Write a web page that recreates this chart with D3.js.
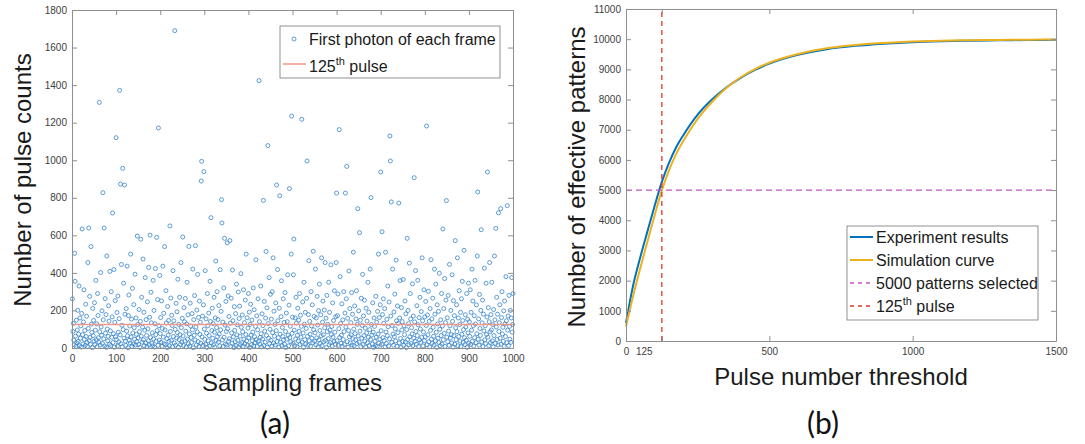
<!DOCTYPE html>
<html>
<head>
<meta charset="utf-8">
<script src="https://cdn.jsdelivr.net/npm/d3@7"></script>
<style>
	body { margin: 0; background: #fff; }
	text { font-family: "Liberation Sans", Arial, sans-serif; }
	.tick text { fill: #404040; font-size: 10px; }
	.tick line, .domain { stroke: #8f8f8f; }
</style>
</head>
<body>
<script>
// (a) first photon pulse index for each of the 1000 sampling frames
var frameCounts = [
	262, 88, 131, 42, 17, 504, 355, 63, 9, 148, 27, 96, 201, 35, 74, 330, 12, 160, 52, 118,
	5, 184, 634, 71, 22, 139, 310, 46, 93, 14, 233, 61, 169, 30, 8, 455, 104, 639, 39, 275,
	57, 19, 540, 127, 83, 2, 211, 66, 147, 36,
	241, 18, 95, 360, 44, 128, 7, 290, 173, 55, 31, 1308, 86, 15, 402, 112, 68, 198, 24, 827,
	150, 49, 639, 11, 263, 79, 178, 3, 490, 101, 38, 62, 225, 143, 20, 408, 91, 13, 300, 57,
	166, 719, 29, 76, 418, 4, 137, 252, 60, 1120,
	45, 189, 10, 277, 84, 33, 156, 1372, 70, 873, 23, 445, 121, 6, 957, 98, 345, 52, 868, 180,
	37, 14, 210, 90, 436, 65, 1, 172, 282, 41, 117, 26, 500, 59, 154, 9, 318, 80, 21, 231,
	108, 47, 393, 16, 160, 73, 34, 596, 125, 54,
	19, 205, 87, 3, 142, 579, 63, 270, 31, 111, 474, 44, 190, 12, 95, 375, 28, 151, 67, 8,
	246, 102, 39, 429, 17, 164, 601, 56, 297, 134, 25, 81, 12, 360, 48, 200, 5, 129, 423, 71,
	36, 589, 93, 258, 14, 1172, 119, 42, 386, 77,
	162, 30, 251, 9, 104, 436, 58, 185, 23, 540, 96, 18, 305, 133, 50, 2, 221, 69, 147, 35,
	11, 650, 88, 266, 40, 174, 120, 7, 412, 61, 145, 27, 1690, 99, 15, 238, 53, 193, 82, 366,
	4, 126, 45, 270, 71, 19, 455, 108, 32, 158,
	591, 64, 13, 215, 140, 37, 264, 90, 6, 128, 350, 48, 177, 22, 541, 75, 10, 239, 117, 56,
	29, 183, 97, 420, 1, 151, 68, 279, 43, 545, 112, 16, 202, 86, 392, 34, 163, 8, 250, 72,
	137, 25, 889, 994, 59, 170, 14, 230, 939, 101,
	46, 412, 20, 155, 79, 3, 290, 118, 38, 186, 66, 10, 355, 141, 694, 27, 93, 212, 52, 130,
	18, 270, 84, 5, 160, 463, 40, 109, 300, 61, 152, 31, 226, 74, 12, 417, 97, 195, 790, 666,
	43, 138, 8, 320, 57, 584, 122, 21, 248, 88,
	15, 560, 103, 277, 36, 168, 49, 572, 132, 7, 265, 80, 26, 415, 145, 59, 2, 220, 94, 33,
	183, 12, 340, 70, 124, 41, 298, 5, 157, 223, 63, 18, 396, 110, 28, 176, 86, 9, 310, 47,
	135, 22, 255, 72, 500, 38, 161, 14, 106, 290,
	54, 191, 3, 126, 233, 68, 17, 149, 39, 85, 320, 11, 204, 60, 29, 115, 470, 44, 171, 8,
	97, 262, 35, 1424, 140, 21, 57, 330, 76, 6, 182, 48, 119, 786, 13, 248, 90, 31, 159, 514,
	67, 214, 4, 1078, 130, 52, 375, 24, 100, 286,
	41, 154, 10, 300, 82, 480, 26, 196, 63, 125, 16, 240, 92, 868, 35, 418, 145, 55, 5, 212,
	811, 74, 30, 167, 358, 14, 109, 61, 262, 43, 136, 20, 295, 88, 2, 186, 47, 140, 390, 69,
	11, 228, 849, 56, 116, 33, 500, 1235, 78, 164,
	25, 390, 580, 95, 12, 160, 48, 270, 133, 7, 67, 212, 37, 148, 89, 290, 19, 174, 58, 115,
	1218, 30, 245, 80, 3, 350, 127, 44, 190, 22, 104, 265, 996, 62, 15, 178, 465, 39, 142, 74,
	9, 300, 118, 52, 230, 28, 515, 97, 168, 36,
	81, 420, 17, 160, 54, 275, 122, 6, 199, 43, 340, 93, 24, 177, 65, 480, 13, 138, 250, 71,
	33, 202, 108, 455, 40, 159, 2, 280, 87, 126, 50, 350, 18, 190, 96, 29, 443, 72, 115, 10,
	240, 58, 146, 35, 305, 84, 20, 167, 455, 825,
	39, 172, 288, 14, 103, 1163, 56, 380, 130, 25, 68, 235, 9, 150, 45, 300, 87, 19, 186, 825,
	112, 262, 967, 34, 158, 4, 93, 410, 60, 210, 27, 135, 71, 295, 16, 180, 49, 510, 101, 12,
	224, 77, 43, 155, 305, 23, 126, 742, 64, 198,
	31, 614, 90, 148, 7, 265, 52, 120, 392, 18, 171, 66, 255, 37, 106, 5, 212, 80, 143, 28,
	350, 57, 190, 13, 98, 420, 45, 801, 125, 69, 21, 240, 84, 3, 160, 115, 36, 12, 275, 58,
	137, 8, 195, 74, 500, 26, 162, 47, 230, 937,
	92, 19, 619, 178, 55, 262, 131, 40, 210, 6, 510, 85, 24, 153, 66, 330, 113, 11, 245, 49,
	1129, 996, 170, 778, 30, 120, 420, 74, 15, 192, 60, 287, 102, 38, 468, 145, 9, 224, 82, 131,
	772, 27, 160, 359, 51, 4, 215, 96, 140, 35,
	365, 14, 118, 71, 250, 32, 182, 2, 98, 584, 45, 200, 130, 17, 452, 60, 290, 155, 24, 108,
	75, 342, 13, 170, 52, 907, 139, 36, 412, 88, 20, 225, 66, 360, 124, 8, 162, 43, 270, 101,
	30, 194, 57, 480, 145, 11, 85, 310, 39, 166,
	59, 248, 120, 1182, 18, 176, 70, 302, 33, 142, 6, 210, 94, 470, 47, 155, 25, 265, 110, 63,
	15, 420, 180, 38, 340, 84, 3, 230, 128, 52, 195, 29, 398, 100, 12, 150, 66, 290, 21, 117,
	634, 44, 210, 78, 370, 9, 135, 255, 785, 58,
	161, 34, 280, 90, 14, 445, 118, 53, 200, 71, 27, 390, 142, 5, 252, 66, 172, 20, 572, 108,
	44, 230, 87, 480, 12, 160, 61, 305, 125, 37, 190, 8, 262, 73, 355, 146, 30, 98, 520, 55,
	18, 177, 112, 42, 290, 3, 153, 81, 345, 26,
	140, 62, 310, 19, 190, 95, 420, 36, 250, 119, 10, 172, 55, 360, 128, 28, 230, 76, 490, 831,
	47, 155, 15, 285, 104, 67, 200, 630, 32, 134, 255, 8, 180, 91, 425, 43, 118, 23, 345, 72,
	165, 937, 58, 215, 12, 140, 455, 86, 29, 178,
	96, 350, 38, 125, 6, 205, 66, 490, 150, 24, 637, 112, 270, 45, 180, 16, 720, 88, 135, 230,
	52, 742, 20, 162, 300, 75, 110, 35, 198, 9, 250, 128, 61, 380, 145, 28, 758, 95, 170, 13,
	280, 115, 47, 200, 30, 160, 375, 84, 125, 290
];
var pulseLine = 125;
var xTicksA = [0, 100, 200, 300, 400, 500, 600, 700, 800, 900, 1000];
var yTicksA = [0, 200, 400, 600, 800, 1000, 1200, 1400, 1600, 1800];

// (b) effective patterns vs pulse number threshold
var thresholds = [0, 25, 50, 75, 100, 125, 150, 175, 200, 250, 300, 350, 400, 450, 500, 600, 700, 800, 900, 1000, 1100, 1200, 1300, 1400, 1500];
var experiment = [600, 1850, 2780, 3640, 4480, 5270, 5900, 6420, 6820, 7500, 8000, 8400, 8720, 8980, 9190, 9480, 9670, 9780, 9850, 9900, 9930, 9950, 9963, 9972, 9980];
var simulation = [480, 1500, 2420, 3300, 4170, 4990, 5650, 6200, 6630, 7360, 7920, 8380, 8740, 9010, 9220, 9510, 9700, 9810, 9875, 9920, 9948, 9965, 9976, 9984, 9990];
var selectedPatterns = 5000;
var xTicksB = [0, 125, 500, 1000, 1500];
var yTicksB = [0, 1000, 2000, 3000, 4000, 5000, 6000, 7000, 8000, 9000, 10000, 11000];

var svg = d3.select("body").append("svg")
	.attr("width", 1085)
	.attr("height", 444);

function frame(x, y, xt, yt) {
	var g = svg.append("g");
	var r = x.range(), b = y.range();
	g.append("g").attr("transform", "translate(0," + b[0] + ")")
		.call(d3.axisBottom(x).tickValues(xt).tickSize(-5).tickSizeOuter(0).tickPadding(7).tickFormat(d3.format("d")));
	g.append("g").attr("transform", "translate(0," + b[1] + ")")
		.call(d3.axisTop(x).tickValues(xt).tickSize(-5).tickSizeOuter(0).tickFormat(""));
	g.append("g").attr("transform", "translate(" + r[0] + ",0)")
		.call(d3.axisLeft(y).tickValues(yt).tickSize(-5).tickSizeOuter(0).tickPadding(5).tickFormat(d3.format("d")));
	g.append("g").attr("transform", "translate(" + r[1] + ",0)")
		.call(d3.axisRight(y).tickValues(yt).tickSize(-5).tickSizeOuter(0).tickFormat(""));
	return g;
}

function superLabel(sel, pre, post) {
	sel.append("tspan").text(pre);
	sel.append("tspan").attr("dy", -7).attr("font-size", 11).text("th");
	sel.append("tspan").attr("dy", 7).text(post);
}

// ---------- (a) ----------
var xa = d3.scaleLinear().domain([0, 1000]).range([72, 513]);
var ya = d3.scaleLinear().domain([0, 1800]).range([348, 10]);

svg.append("g").selectAll("circle").data(frameCounts).enter().append("circle")
	.attr("cx", function(d, i){ return xa(i + 1); })
	.attr("cy", function(d){ return ya(d); })
	.attr("r", 2)
	.attr("fill", "none")
	.attr("stroke", "#3584cc")
	.attr("stroke-width", 0.8);

svg.append("line")
	.attr("x1", xa(0)).attr("x2", xa(1000))
	.attr("y1", ya(pulseLine)).attr("y2", ya(pulseLine))
	.attr("stroke", "#f2978a").attr("stroke-width", 1.5);

frame(xa, ya, xTicksA, yTicksA);

var legA = svg.append("g");
legA.append("rect").attr("x", 280).attr("y", 26).attr("width", 220).attr("height", 52)
	.attr("fill", "#fff").attr("stroke", "#777").attr("stroke-width", 0.8);
legA.append("circle").attr("cx", 294).attr("cy", 39).attr("r", 2)
	.attr("fill", "none").attr("stroke", "#3584cc").attr("stroke-width", 0.8);
legA.append("text").attr("x", 309).attr("y", 45).attr("font-size", 16).attr("fill", "#1a1a1a")
	.text("First photon of each frame");
legA.append("line").attr("x1", 283).attr("x2", 306).attr("y1", 64).attr("y2", 64)
	.attr("stroke", "#f2978a").attr("stroke-width", 1.5);
superLabel(legA.append("text").attr("x", 309).attr("y", 72).attr("font-size", 16).attr("fill", "#1a1a1a"), "125", " pulse");

svg.append("text").attr("x", 292).attr("y", 391).attr("text-anchor", "middle")
	.attr("font-size", 24).attr("fill", "#1a1a1a").text("Sampling frames");
svg.append("text").attr("transform", "translate(31,180) rotate(-90)").attr("text-anchor", "middle")
	.attr("font-size", 24).attr("fill", "#1a1a1a").text("Number of pulse counts");
svg.append("text").attr("x", 275).attr("y", 434).attr("text-anchor", "middle")
	.style("font-family", "Lato, sans-serif")
	.attr("font-size", 30).attr("fill", "#111").text("(a)");

// ---------- (b) ----------
var xb = d3.scaleLinear().domain([0, 1500]).range([626, 1056]);
var yb = d3.scaleLinear().domain([0, 11000]).range([341, 9]);

var curve = d3.line()
	.x(function(d, i){ return xb(thresholds[i]); })
	.y(function(d){ return yb(d); })
	.curve(d3.curveMonotoneX);

svg.append("path").datum(experiment).attr("d", curve)
	.attr("fill", "none").attr("stroke", "#0072bd").attr("stroke-width", 2);
svg.append("path").datum(simulation).attr("d", curve)
	.attr("fill", "none").attr("stroke", "#edb120").attr("stroke-width", 2);

svg.append("line")
	.attr("x1", xb(0)).attr("x2", xb(1500))
	.attr("y1", yb(selectedPatterns)).attr("y2", yb(selectedPatterns))
	.attr("stroke", "#c455c4").attr("stroke-width", 1.3).attr("stroke-dasharray", "6,4");
svg.append("line")
	.attr("x1", xb(pulseLine)).attr("x2", xb(pulseLine))
	.attr("y1", yb(0)).attr("y2", yb(11000))
	.attr("stroke", "#e3342c").attr("stroke-width", 1.3).attr("stroke-dasharray", "5,4");

var fb = frame(xb, yb, xTicksB, yTicksB);
fb.selectAll(".tick text").filter(function(d){ return d === 125; }).attr("dx", -18);

var legB = svg.append("g");
legB.append("rect").attr("x", 847).attr("y", 226).attr("width", 191).attr("height", 94)
	.attr("fill", "#fff").attr("stroke", "#777").attr("stroke-width", 0.8);
var legItems = [
	{ name: "Experiment results", color: "#0072bd", dash: null, w: 2 },
	{ name: "Simulation curve", color: "#edb120", dash: null, w: 2 },
	{ name: "5000 patterns selected", color: "#c455c4", dash: "4,4", w: 1.3 },
	{ name: "125", color: "#e3342c", dash: "4,4", w: 1.3 }
];
legItems.forEach(function(d, i){
	var yy = 237 + i * 23;
	legB.append("line").attr("x1", 850).attr("x2", 873).attr("y1", yy).attr("y2", yy)
		.attr("stroke", d.color).attr("stroke-width", d.w).attr("stroke-dasharray", d.dash);
	var t = legB.append("text").attr("x", 876).attr("y", yy + 6).attr("font-size", 16).attr("fill", "#1a1a1a");
	if (i === 3) superLabel(t, "125", " pulse");
	else t.text(d.name);
});

svg.append("text").attr("x", 841).attr("y", 385).attr("text-anchor", "middle")
	.attr("font-size", 24).attr("fill", "#1a1a1a").text("Pulse number threshold");
svg.append("text").attr("transform", "translate(585,177) rotate(-90)").attr("text-anchor", "middle")
	.attr("font-size", 24).attr("fill", "#1a1a1a").text("Number of effective patterns");
svg.append("text").attr("x", 823).attr("y", 434).attr("text-anchor", "middle")
	.style("font-family", "Lato, sans-serif")
	.attr("font-size", 30).attr("fill", "#111").text("(b)");
</script>
</body>
</html>
